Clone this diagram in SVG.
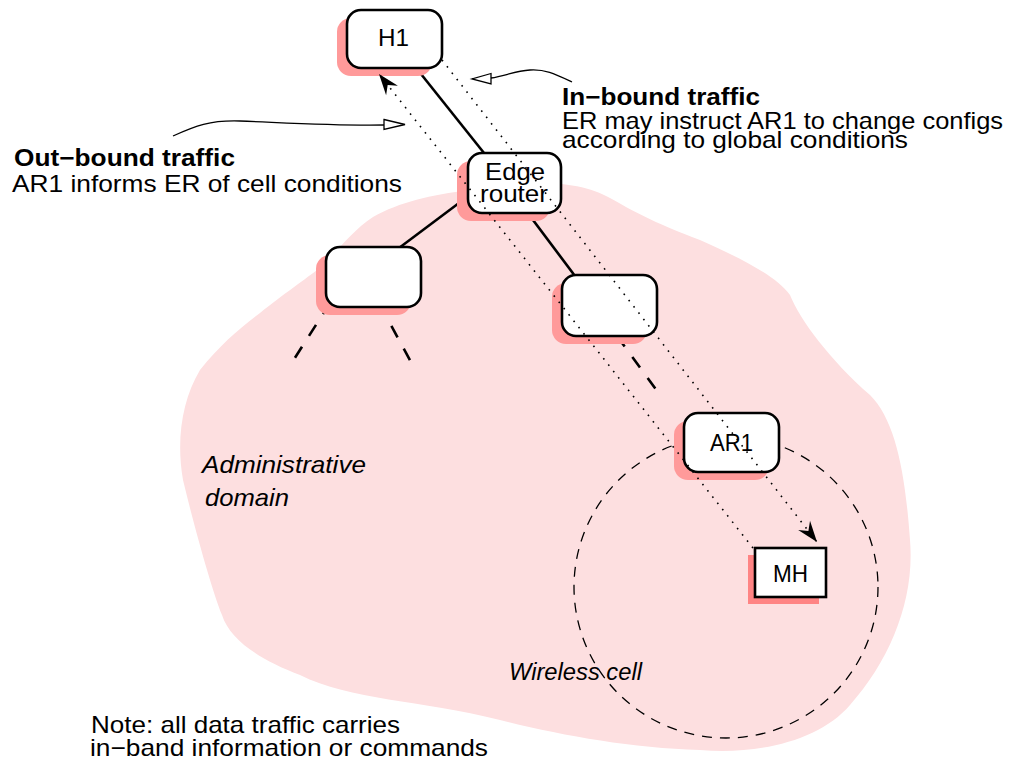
<svg xmlns="http://www.w3.org/2000/svg" width="1021" height="763" viewBox="0 0 1021 763">
<style>
text{font-family:"Liberation Sans",Arial,sans-serif;font-size:24px;fill:#000}
.b{font-weight:bold}
.i{font-style:italic}
.box{fill:#fff;stroke:#000;stroke-width:2.6}
.sh{fill:#ff9a9a;stroke:none}
.tree{stroke:#000;stroke-width:2.6;fill:none}
.dash{stroke:#000;stroke-width:2.6;fill:none;stroke-dasharray:13 13}
.dot{stroke:#000;stroke-width:1.6;fill:none;stroke-dasharray:1.6 6.4}
.thin{stroke:#000;stroke-width:1.3;fill:none}
.hollow{fill:#fff;stroke:#000;stroke-width:1.3}
</style>
<defs>
<marker id="barb" viewBox="-22 -10 24 20" refX="0" refY="0" markerWidth="24" markerHeight="20" markerUnits="userSpaceOnUse" orient="auto">
<path d="M0,0 L-21,-7.5 L-14,0 L-21,7.5 Z" fill="#000"/>
</marker>
</defs>
<rect width="1021" height="763" fill="#fff"/>
<path id="domain" d="M470,190 C520,178 580,180 610,198 C640,215 660,225 700,240 C740,258 775,275 790,295 C800,320 830,360 870,395 C895,420 905,470 910,540 C915,600 890,660 850,705 C820,740 760,755 700,750 C630,748 560,735 500,720 C420,700 350,700 300,675 C260,660 230,640 222,615 C212,590 195,530 183,480 C176,440 182,400 200,370 C220,345 240,328 260,313 C285,293 300,283 317,270 C335,255 350,232 373,217 C400,202 430,195 470,190 Z" fill="#fddfe0"/>
<ellipse id="wireless-cell" cx="726" cy="587" rx="152" ry="151" fill="none" stroke="#000" stroke-width="1.3" stroke-dasharray="10 8"/>
<g id="tree-links">
<line class="tree" x1="417" y1="69" x2="484" y2="153"/>
<line class="tree" x1="467" y1="197" x2="399" y2="248"/>
<line class="tree" x1="527" y1="212" x2="575" y2="276"/>
<line class="dash" x1="617" y1="336" x2="660" y2="395"/>
<line class="dash" x1="330" y1="303" x2="291" y2="364"/>
<line class="dash" x1="379" y1="303" x2="412" y2="364"/>
</g>
<g id="H1"><rect class="sh" x="337" y="18" width="95" height="58" rx="14"/><rect class="box" x="347" y="10" width="95" height="58" rx="14"/><text x="378" y="46" textLength="31" lengthAdjust="spacingAndGlyphs" font-size="25">H1</text></g>
<g id="edge-router"><rect class="sh" x="457" y="161" width="93" height="60" rx="14"/><rect class="box" x="468" y="153" width="93" height="60" rx="14"/><text x="485" y="180" textLength="60" lengthAdjust="spacingAndGlyphs">Edge</text><text x="480" y="202" textLength="68" lengthAdjust="spacingAndGlyphs">router</text></g>
<g id="router-left"><rect class="sh" x="316" y="255" width="95" height="60" rx="14"/><rect class="box" x="326" y="247" width="95" height="60" rx="14"/></g>
<g id="router-right"><rect class="sh" x="552" y="283" width="95" height="61" rx="14"/><rect class="box" x="562" y="275" width="95" height="61" rx="14"/></g>
<g id="AR1"><rect class="sh" x="674" y="421" width="95" height="59" rx="14"/><rect class="box" x="684" y="413" width="95" height="59" rx="14"/><text x="710" y="451" textLength="43" lengthAdjust="spacingAndGlyphs">AR1</text></g>
<g id="MH"><rect x="748" y="555" width="71" height="49" fill="#ff8484"/><rect class="box" x="755" y="548" width="71" height="49"/><text x="773" y="582" textLength="35" lengthAdjust="spacingAndGlyphs">MH</text></g>
<g id="connectors">
<line class="dot" x1="753" y1="548" x2="379" y2="74" marker-end="url(#barb)"/>
<line class="dot" x1="442" y1="60" x2="817" y2="542" marker-end="url(#barb)"/>
<path class="thin" d="M173,136 C195,126 210,120 240,121 C290,123 340,126 384,125"/>
<polygon class="hollow" points="384,119.5 405,124.5 384,129.5"/>
<path class="thin" d="M572,82 C555,74 545,69 530,70 C515,71 505,76 491,78"/>
<polygon class="hollow" points="491,73.5 472,79 491,84"/>
</g>
<g id="labels">
<text class="b" x="14" y="166" textLength="221" lengthAdjust="spacingAndGlyphs">Out−bound traffic</text>
<text x="12" y="192" textLength="390" lengthAdjust="spacingAndGlyphs">AR1 informs ER of cell conditions</text>
<text class="b" x="562" y="105" textLength="198" lengthAdjust="spacingAndGlyphs">In−bound traffic</text>
<text x="562" y="129" textLength="441" lengthAdjust="spacingAndGlyphs">ER may instruct AR1 to change configs</text>
<text x="562" y="148" textLength="346" lengthAdjust="spacingAndGlyphs">according to global conditions</text>
<text class="i" x="202" y="473" textLength="164" lengthAdjust="spacingAndGlyphs">Administrative</text>
<text class="i" x="205" y="506" textLength="84" lengthAdjust="spacingAndGlyphs">domain</text>
<text class="i" x="509" y="680" font-size="22" textLength="133" lengthAdjust="spacingAndGlyphs">Wireless cell</text>
<text x="91" y="733" textLength="309" lengthAdjust="spacingAndGlyphs">Note: all data traffic carries</text>
<text x="90" y="756" textLength="398" lengthAdjust="spacingAndGlyphs">in−band information or commands</text>
</g>
</svg>
